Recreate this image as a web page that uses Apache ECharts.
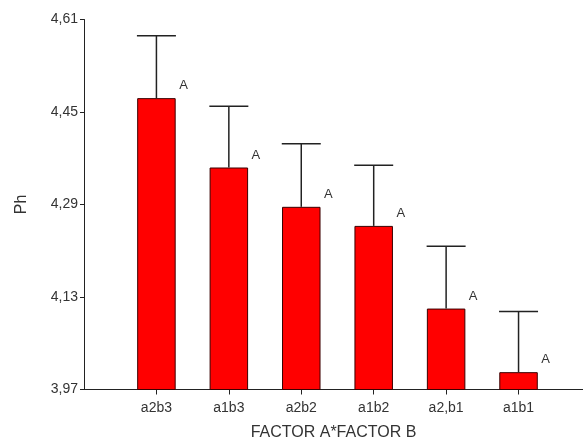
<!DOCTYPE html>
<html>
<head>
<meta charset="utf-8">
<script src="https://cdn.jsdelivr.net/npm/echarts@6/dist/echarts.min.js"></script>
<style>html,body{margin:0;padding:0;background:#fff;}#c{width:583px;height:441px;}</style>
</head>
<body>
<div id="c"></div>
<script>
var categories = ["a2b3", "a1b3", "a2b2", "a1b2", "a2,b1", "a1b1"];
var means = [4.474, 4.354, 4.286, 4.253, 4.110, 4.000];
var upper = [4.582, 4.460, 4.395, 4.358, 4.218, 4.105];
var letters = ["A", "A", "A", "A", "A", "A"];
var yTicks = [3.97, 4.13, 4.29, 4.45, 4.61];
var xPositions = [1, 2, 3, 4, 5, 6];

var barData = categories.map(function (c, i) { return [xPositions[i], means[i]]; });
var errData = categories.map(function (c, i) { return [xPositions[i], means[i], upper[i]]; });

var FONT = "Liberation Sans, Arial, sans-serif";
var chart = echarts.init(document.getElementById('c'), null, {renderer: 'canvas'});
chart.setOption({
  animation: false,
  backgroundColor: '#ffffff',
  grid: {left: 84, right: 0, top: 19.5, bottom: 51.5, containLabel: false, outerBoundsMode: 'none'},
  xAxis: {
    type: 'value',
    min: 0,
    max: 6.89,
    name: 'FACTOR A*FACTOR B',
    nameLocation: 'middle',
    nameGap: 35,
    nameTextStyle: {fontFamily: FONT, fontSize: 16, color: '#333'},
    axisLine: {show: true, onZero: false, lineStyle: {color: '#222', width: 1}},
    axisTick: {show: true, length: 5, customValues: xPositions, lineStyle: {color: '#222'}},
    axisLabel: {customValues: xPositions, margin: 12, fontFamily: FONT, fontSize: 14, color: '#333',
      formatter: function (v) { return categories[Math.round(v) - 1] || ''; }},
    splitLine: {show: false}
  },
  yAxis: {
    type: 'value',
    min: 3.97,
    max: 4.61,
    name: 'Ph',
    nameLocation: 'middle',
    nameGap: 54,
    nameTextStyle: {fontFamily: FONT, fontSize: 16, color: '#333'},
    axisLine: {show: true, onZero: false, lineStyle: {color: '#222', width: 1}},
    axisTick: {show: true, length: 4, customValues: yTicks, lineStyle: {color: '#222'}},
    axisLabel: {customValues: yTicks, margin: 6, fontFamily: FONT, fontSize: 14, color: '#333',
      formatter: function (v) { return v.toFixed(2).replace('.', ','); }},
    splitLine: {show: false}
  },
  series: [
    {
      type: 'bar',
      data: barData,
      barWidth: 38.5,
      itemStyle: {color: '#ff0000', borderColor: '#3a0000', borderWidth: 1},
      label: {
        show: true,
        position: [42, -19],
        align: 'left',
        verticalAlign: 'top',
        fontFamily: FONT,
        fontSize: 13,
        color: '#333',
        formatter: function (p) { return letters[p.dataIndex] || ''; }
      },
      z: 2
    },
    {
      type: 'custom',
      data: errData,
      z: 3,
      renderItem: function (params, api) {
        var x = api.value(0);
        var p0 = api.coord([x, api.value(1)]);
        var p1 = api.coord([x, api.value(2)]);
        var hw = 19.5;
        var st = {stroke: '#222', lineWidth: 1.5};
        return {
          type: 'group',
          children: [
            {type: 'line', shape: {x1: p0[0], y1: p0[1], x2: p1[0], y2: p1[1]}, style: st},
            {type: 'line', shape: {x1: p1[0] - hw, y1: p1[1], x2: p1[0] + hw, y2: p1[1]}, style: st}
          ]
        };
      }
    }
  ]
});
</script>
</body>
</html>
